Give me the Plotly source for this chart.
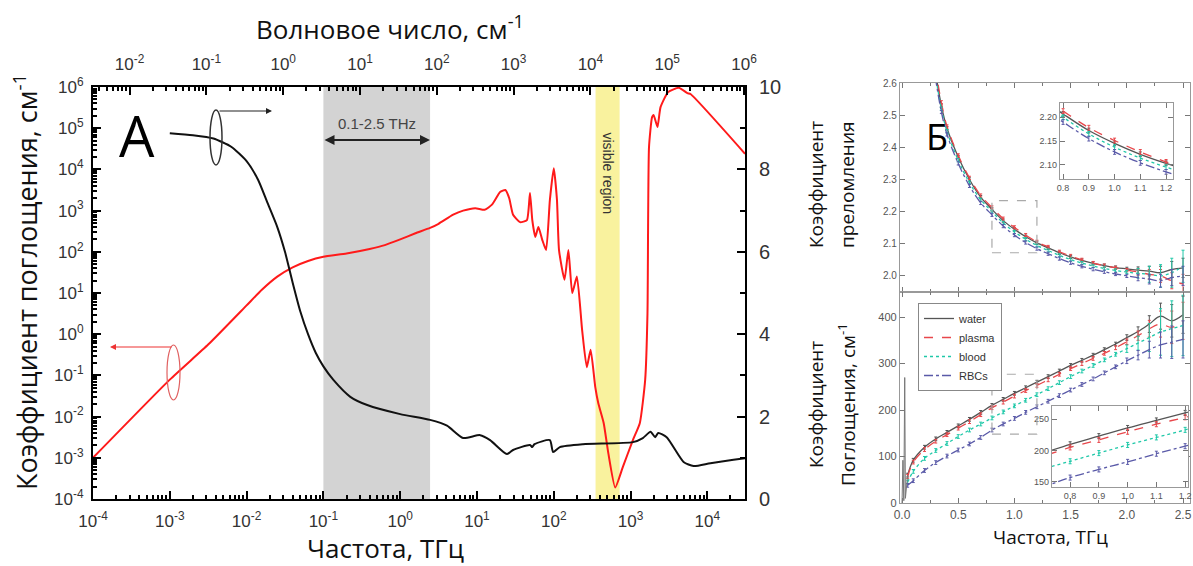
import numpy as np
import plotly.graph_objects as go

W, H = 1193, 566

# ---------------- Panel A data ----------------
# absorption coefficient of water (red), cm^-1, vs frequency THz
abs_freq_thz = [1e-4, 1e-3, 3.16e-3, 1e-2, 1.58e-2, 2.51e-2, 3.98e-2, 6.31e-2, 0.1, 0.2, 0.4, 0.63,
                1.0, 1.58, 2.45, 3.16, 4.9, 6.6, 9.5, 12.6, 15.8, 20.0, 23.4, 26.3, 29.5, 36.3,
                44.7, 49.0, 52.5, 57.5, 63.0, 70.8, 79.4, 89.0, 100.0, 110.0, 117.0, 138.0,
                155.0, 174.0, 200.0, 234.0, 269.0, 302.0, 347.0, 380.0, 447.0, 513.0, 631.0,
                794.0, 1072.0, 1318.0, 1549.0, 1660.0, 1738.0, 1905.0, 1995.0, 2239.0, 2455.0,
                3090.0, 4266.0, 5495.0, 6026.0, 30900.0]
abs_coef = [1e-3, 0.079, 0.56, 5.0, 12.0, 25.0, 42.0, 60.0, 76.0, 91.0, 117.0, 145.0,
            200.0, 282.0, 380.0, 479.0, 794.0, 1000.0, 1148.0, 1047.0, 1413.0, 2818.0, 3162.0,
            1995.0, 794.0, 525.0, 589.0, 2692.0, 589.0, 229.0, 398.0, 195.0, 110.0, 1820.0,
            10700.0, 1820.0, 110.0, 20.9, 110.0, 10.0, 25.0, 1.26, 0.158, 0.42, 0.052, 0.021,
            0.0069, 0.0013, 1.9e-4, 6.0e-4, 2.7e-3, 6.9e-3, 0.078, 3.2, 34700.0, 186000.0,
            209000.0, 107000.0, 324000.0, 759000.0, 955000.0, 708000.0, 676000.0, 24000.0]

# refractive index of water (black), right axis
ri_freq_thz = [1e-3, 2.0e-3, 3.7e-3, 6.3e-3, 0.01, 0.0141, 0.0186, 0.0251, 0.0316, 0.0398, 0.0501,
               0.0631, 0.0794, 0.1, 0.135, 0.224, 0.372, 1.0, 2.45, 4.07, 6.6, 11.0, 14.8, 24.5,
               29.5, 49.0, 52.5, 56.0, 89.0, 98.0, 120.0, 240.0, 1072.0, 1445.0, 1820.0, 2089.0,
               2291.0, 2951.0, 4898.0, 6607.0, 10960.0, 21880.0, 30900.0]
ri_value = [8.88, 8.83, 8.75, 8.55, 8.2, 7.75, 7.2, 6.6, 6.0, 5.25, 4.55,
            4.0, 3.55, 3.22, 2.89, 2.48, 2.28, 2.06, 1.92, 1.78, 1.48, 1.55, 1.43, 1.09,
            1.19, 1.31, 1.26, 1.33, 1.43, 1.14, 1.26, 1.33, 1.38, 1.48, 1.63, 1.5,
            1.6, 1.5, 0.9, 0.8, 0.87, 0.95, 0.99]

thz_band = [0.1, 2.45]
visible_band = [350.0, 720.0]

x_ticks = [1e-4, 1e-3, 1e-2, 1e-1, 1e0, 1e1, 1e2, 1e3, 1e4]
x_ticktext = ["10<sup>-4</sup>", "10<sup>-3</sup>", "10<sup>-2</sup>", "10<sup>-1</sup>", "10<sup>0</sup>",
              "10<sup>1</sup>", "10<sup>2</sup>", "10<sup>3</sup>", "10<sup>4</sup>"]
top_ticks = [1e-2, 1e-1, 1e0, 1e1, 1e2, 1e3, 1e4, 1e5, 1e6]
top_ticktext = ["10<sup>-2</sup>", "10<sup>-1</sup>", "10<sup>0</sup>", "10<sup>1</sup>", "10<sup>2</sup>",
                "10<sup>3</sup>", "10<sup>4</sup>", "10<sup>5</sup>", "10<sup>6</sup>"]
y_ticks = [1e-4, 1e-3, 1e-2, 1e-1, 1e0, 1e1, 1e2, 1e3, 1e4, 1e5, 1e6]
y_ticktext = ["10<sup>-4</sup>", "10<sup>-3</sup>", "10<sup>-2</sup>", "10<sup>-1</sup>", "10<sup>0</sup>",
              "10<sup>1</sup>", "10<sup>2</sup>", "10<sup>3</sup>", "10<sup>4</sup>", "10<sup>5</sup>",
              "10<sup>6</sup>"]
y2_ticks = [0, 2, 4, 6, 8, 10]
THZ_TO_CM = 33.356

# ---------------- Panel B data ----------------
n_freq = [0.25, 0.3, 0.35, 0.4, 0.5, 0.6, 0.7, 0.8, 0.9, 1.0, 1.1, 1.2, 1.3, 1.4, 1.5, 1.6, 1.7,
          1.8, 1.9, 2.0, 2.1, 2.2, 2.3, 2.4, 2.5]
n_water = [2.75, 2.63, 2.53, 2.46, 2.37, 2.30, 2.245, 2.207, 2.172, 2.145, 2.122, 2.103, 2.087,
           2.072, 2.059, 2.048, 2.039, 2.032, 2.026, 2.022, 2.018, 2.015, 2.01, 2.02, 2.025]
n_plasma = [2.76, 2.64, 2.54, 2.465, 2.375, 2.305, 2.25, 2.213, 2.178, 2.151, 2.127, 2.106, 2.09,
            2.075, 2.062, 2.05, 2.04, 2.032, 2.025, 2.018, 2.012, 2.005, 2.0, 1.985, 1.975]
n_blood = [2.74, 2.62, 2.52, 2.45, 2.36, 2.29, 2.237, 2.2, 2.165, 2.137, 2.114, 2.095, 2.079,
           2.064, 2.051, 2.04, 2.031, 2.023, 2.017, 2.012, 2.008, 2.005, 2.0, 2.01, 2.03]
n_rbc = [2.73, 2.61, 2.51, 2.44, 2.35, 2.28, 2.227, 2.19, 2.155, 2.127, 2.104, 2.085, 2.069,
         2.054, 2.041, 2.03, 2.021, 2.013, 2.006, 2.0, 1.995, 1.99, 1.985, 1.995, 2.0]
n_err = [0.005] * 20 + [0.01, 0.015, 0.02, 0.025, 0.03]
n_err_blood = [0.005] * 20 + [0.015, 0.025, 0.035, 0.045, 0.05]

a_freq = [0.05, 0.1, 0.2, 0.3, 0.4, 0.5, 0.6, 0.7, 0.8, 0.9, 1.0, 1.1, 1.2, 1.3, 1.4, 1.5, 1.6,
          1.7, 1.8, 1.9, 2.0, 2.1, 2.2, 2.3, 2.4, 2.5]
a_water = [60, 92, 120, 138, 152, 166, 180, 195, 210, 223, 236, 248, 260, 272, 284, 296, 307,
           318, 330, 342, 356, 369, 385, 402, 392, 405]
a_plasma = [57, 88, 115, 133, 147, 161, 175, 190, 205, 217, 230, 242, 253, 265, 277, 289, 300,
            311, 322, 334, 347, 360, 375, 385, 378, 392]
a_blood = [45, 68, 96, 113, 128, 143, 157, 170, 183, 196, 209, 221, 233, 246, 259, 272, 284,
           296, 308, 320, 332, 344, 356, 368, 375, 382]
a_rbc = [38, 48, 70, 87, 101, 114, 127, 141, 157, 170, 182, 195, 207, 219, 231, 243, 255, 267,
         280, 293, 306, 318, 330, 340, 346, 352]
a_err = [4] * 20 + [6, 10, 18, 28, 35, 40]
a_err_blood = [4] * 20 + [8, 15, 30, 50, 60, 65]
water_low_freq = [0.0, 0.008, 0.016, 0.024, 0.03, 0.04, 0.05]
water_low_abs = [0, 92, 5, 270, 10, 40, 60]

series_names = ["water", "plasma", "blood", "RBCs"]
series_colors = ["#555555", "#e8474b", "#1fc8a8", "#5a5aa8"]
series_dash = ["solid", "dash", "dot", "dashdot"]

fig = go.Figure()

# ---- Panel A ----
fig.add_trace(go.Scatter(x=[thz_band[0], thz_band[0], thz_band[1], thz_band[1]],
                         y=[1e-4, 1e6, 1e6, 1e-4], fill="toself", fillcolor="#d3d3d3",
                         line=dict(width=0), mode="lines", showlegend=False, hoverinfo="skip",
                         xaxis="x", yaxis="y"))
fig.add_trace(go.Scatter(x=[visible_band[0], visible_band[0], visible_band[1], visible_band[1]],
                         y=[1e-4, 1e6, 1e6, 1e-4], fill="toself", fillcolor="#f9f29e",
                         line=dict(width=0), mode="lines", showlegend=False, hoverinfo="skip",
                         xaxis="x", yaxis="y"))
fig.add_trace(go.Scatter(x=abs_freq_thz, y=abs_coef, mode="lines",
                         line=dict(color="#ff1a1a", width=2, shape="spline", smoothing=0.5),
                         showlegend=False, xaxis="x", yaxis="y"))
fig.add_trace(go.Scatter(x=[top_ticks[0], top_ticks[-1]], y=[1e-4, 1e-4], mode="lines",
                         line=dict(width=0), opacity=0, showlegend=False, hoverinfo="skip",
                         xaxis="x2", yaxis="y"))
fig.add_trace(go.Scatter(x=ri_freq_thz, y=ri_value, mode="lines",
                         line=dict(color="#111111", width=2, shape="spline", smoothing=0.6),
                         showlegend=False, xaxis="x", yaxis="y2"))

# ---- Panel B ----
n_series = [n_water, n_plasma, n_blood, n_rbc]
a_series = [a_water, a_plasma, a_blood, a_rbc]
for i in range(4):
    errn = n_err_blood if i == 2 else n_err
    erra = a_err_blood if i == 2 else a_err
    for xa, ya, vals, err, show in [("x3", "y3", n_series[i], errn, False),
                                    ("x4", "y4", a_series[i], erra, True),
                                    ("x5", "y5", n_series[i], errn, False),
                                    ("x6", "y6", a_series[i], erra, False)]:
        xs = n_freq if ya in ("y3", "y5") else a_freq
        fig.add_trace(go.Scatter(
            x=xs, y=vals, mode="lines", name=series_names[i], showlegend=show,
            line=dict(color=series_colors[i], width=1.3, dash=series_dash[i], shape="spline"),
            error_y=dict(type="data", array=err, color=series_colors[i], thickness=1, width=1.5),
            xaxis=xa, yaxis=ya))
fig.add_trace(go.Scatter(x=water_low_freq, y=water_low_abs, mode="lines",
                         line=dict(color="#777777", width=1), showlegend=False,
                         xaxis="x4", yaxis="y4"))

tickfontA = dict(family="Liberation Sans, Arial", size=17, color="#333333")
tickfontB = dict(family="Liberation Sans, Arial", size=10, color="#555555")
tickfontI = dict(family="Liberation Sans, Arial", size=9, color="#555555")


def minor_log(lo, hi):
    return [k * 10.0 ** e for e in range(lo, hi) for k in range(2, 10)]


axA = dict(showline=True, linecolor="black", linewidth=2, ticks="inside", ticklen=8,
           tickwidth=1.5, tickcolor="black", showgrid=False, zeroline=False, automargin=False)
axB = dict(showline=True, linecolor="#999999", linewidth=1.2, ticks="inside", ticklen=5,
           tickcolor="#777777", showgrid=False, zeroline=False, mirror="ticks", automargin=False)

domA_x = [93 / W, 745 / W]
domA_y = [1 - 499 / H, 1 - 87 / H]
domB_x = [900 / W, 1190 / W]

fig.update_layout(
    width=W, height=H, autosize=False, margin=dict(l=0, r=0, t=0, b=0, pad=0),
    paper_bgcolor="white", plot_bgcolor="white",
    xaxis=dict(type="log", range=[-4, np.log10(30900)], domain=domA_x, anchor="y",
               tickmode="array", tickvals=x_ticks, ticktext=x_ticktext, tickfont=tickfontA,
               ticklabelstandoff=6,
               minor=dict(tickmode="array", tickvals=minor_log(-4, 5), ticks="inside", ticklen=4,
                          tickcolor="black"), **axA),
    xaxis2=dict(type="log",
                range=[-4 + np.log10(THZ_TO_CM), np.log10(30900 * THZ_TO_CM)],
                overlaying="x", side="top", anchor="y",
                tickmode="array", tickvals=top_ticks, ticktext=top_ticktext, tickfont=tickfontA,
                ticklabelstandoff=8,
                minor=dict(tickmode="array", tickvals=minor_log(-3, 7), ticks="inside", ticklen=4,
                           tickcolor="black"), **axA),
    yaxis=dict(type="log", range=[-4, 6], domain=domA_y, anchor="x",
               tickmode="array", tickvals=y_ticks, ticktext=y_ticktext, tickfont=tickfontA,
               ticklabelstandoff=4,
               minor=dict(tickmode="array", tickvals=minor_log(-4, 6), ticks="inside", ticklen=4,
                          tickcolor="black"), **axA),
    yaxis2=dict(range=[0, 10], overlaying="y", side="right", anchor="x",
                tickmode="array", tickvals=y2_ticks, ticklabelstandoff=8,
                tickfont=dict(family="Liberation Sans, Arial", size=20, color="#333333"),
                minor=dict(dtick=1, ticks="inside", ticklen=5, tickcolor="black"), **axA),
    xaxis3=dict(domain=domB_x, anchor="y3", range=[-0.018, 2.562], dtick=0.5,
                showticklabels=False, minor=dict(dtick=0.25, ticks="inside", ticklen=3), **axB),
    yaxis3=dict(domain=[1 - 292 / H, 1 - 83 / H], anchor="x3", range=[1.95, 2.6], dtick=0.1,
                tickformat=".1f", tickfont=tickfontB, **axB),
    xaxis4=dict(domain=domB_x, anchor="y4", range=[-0.018, 2.562], dtick=0.5, tickformat=".1f",
                tickfont=dict(family="Liberation Sans, Arial", size=12, color="#555555"),
                minor=dict(dtick=0.25, ticks="inside", ticklen=3), **axB),
    yaxis4=dict(domain=[1 - 503 / H, 1 - 292 / H], anchor="x4", range=[0, 454], dtick=100,
                tickfont=dict(family="Liberation Sans, Arial", size=11, color="#555555"), **axB),
    xaxis5=dict(domain=[1060 / W, 1173 / W], anchor="y5", range=[0.788, 1.227], dtick=0.1,
                tickformat=".1f", tickfont=tickfontI, **axB),
    yaxis5=dict(domain=[1 - 179 / H, 1 - 103 / H], anchor="x5", range=[2.07, 2.23],
                tickmode="array", tickvals=[2.10, 2.15, 2.20], tickformat=".2f",
                tickfont=tickfontI, **axB),
    xaxis6=dict(domain=[1052 / W, 1188 / W], anchor="y6", range=[0.737, 1.21], dtick=0.1,
                tickformat=".1f", tickfont=tickfontI, **axB),
    yaxis6=dict(domain=[1 - 487 / H, 1 - 406 / H], anchor="x6", range=[142, 271],
                tickmode="array", tickvals=[150, 200, 250], tickfont=tickfontI, **axB),
    legend=dict(x=918 / W, y=1 - 303 / H, xanchor="left", yanchor="top", bgcolor="white",
                bordercolor="#888888", borderwidth=1, font=dict(family="Liberation Sans, Arial",
                size=11, color="#333333"), tracegroupgap=0, itemwidth=30),
)


def label(text, px, py, size, angle=0, family="Open Sans", color="#111111", xref="paper", xval=None):
    return dict(text=text, x=(px / W) if xval is None else xval, y=1 - py / H, xref=xref,
                yref="paper", showarrow=False, textangle=angle, xanchor="center",
                yanchor="middle", font=dict(family=family, size=size, color=color))


annotations = [
    label("Волновое число, см<sup>-1</sup>", 390, 28, 26),
    label("Частота, ТГц", 385, 548, 26),
    label("Коэффициент поглощения, см<sup>-1</sup>", 25, 282, 27, angle=-90),
    label("А", 137, 135, 56, color="black"),
    label("Б", 937, 137, 36, color="black"),
    label("0.1-2.5 THz", 377, 123, 15, family="Liberation Sans, Arial", color="#444444"),
    label("visible region", 0, 173, 14, angle=90, family="Liberation Sans, Arial", color="#333333",
          xref="x", xval=np.log10(np.sqrt(visible_band[0] * visible_band[1]))),
    label("Коэффициент", 816, 185, 19, angle=-90),
    label("преломления", 847, 185, 19, angle=-90),
    label("Коэффициент", 816, 405, 19, angle=-90),
    label("Поглощения, см<sup>-1</sup>", 847, 405, 19, angle=-90),
    label("Частота, ТГц", 1050, 537, 19),
    dict(text="", x=430 / W, y=1 - 140 / H, xref="paper", yref="paper", showarrow=True,
         ax=-107, ay=0, arrowside="end+start", arrowhead=2, startarrowhead=2, arrowwidth=2,
         arrowcolor="#222222", arrowsize=1, startarrowsize=1),
    dict(text="", x=272 / W, y=1 - 111 / H, xref="paper", yref="paper", showarrow=True,
         ax=-54, ay=0, arrowhead=2, arrowwidth=1.2, arrowcolor="#222222"),
    dict(text="", x=110 / W, y=1 - 347 / H, xref="paper", yref="paper", showarrow=True,
         ax=63, ay=0, arrowhead=2, arrowwidth=1.2, arrowcolor="#ee3333"),
]
fig.update_layout(annotations=annotations)

shapes = [
    dict(type="circle", xref="paper", yref="paper", x0=210 / W, x1=222 / W, y0=1 - 165 / H,
         y1=1 - 110 / H, line=dict(color="#333333", width=1.5)),
    dict(type="circle", xref="paper", yref="paper", x0=167 / W, x1=180 / W, y0=1 - 400 / H,
         y1=1 - 345 / H, line=dict(color="#e06060", width=1.2)),
    dict(type="rect", xref="x3", yref="y3", x0=0.8, x1=1.2, y0=2.072, y1=2.234,
         line=dict(color="#aaaaaa", width=1.2, dash="dash")),
    dict(type="rect", xref="x4", yref="y4", x0=0.8, x1=1.2, y0=148, y1=277,
         line=dict(color="#aaaaaa", width=1.2, dash="dash")),
]
fig.update_layout(shapes=shapes)

fig.write_html("out.html")
